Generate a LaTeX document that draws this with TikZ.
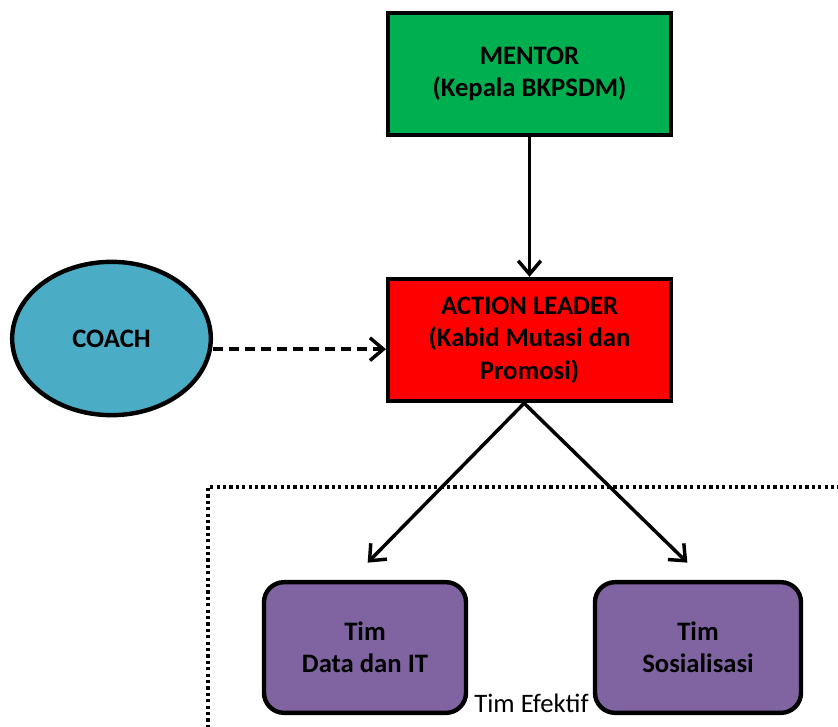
\documentclass[tikz,border=0pt]{standalone}
\usepackage{fontspec}
\setmainfont{Carlito}
\usepackage{tikz}
\usepackage{xcolor}
\usetikzlibrary{positioning,arrows.meta,shapes,calc}

\definecolor{mentorgreen}{HTML}{00B050}
\definecolor{leaderred}{HTML}{FF0000}
\definecolor{coachblue}{HTML}{4BACC6}
\definecolor{timpurple}{HTML}{8064A2}

\tikzset{
    rolebox/.style={draw, line width=3.3pt, minimum width=212pt, minimum height=91.5pt,
        align=center, font=\bfseries\fontsize{20}{24.5}\selectfont},
    timbox/.style={draw, line width=3.3pt, fill=timpurple, rounded corners=15pt,
        minimum height=98pt, align=center, font=\bfseries\fontsize{20}{24}\selectfont},
    linkarrow/.style={-{Straight Barb[length=10pt,width=17pt]}, line width=2.6pt},
}

\begin{document}
\begin{tikzpicture}[x=0.75pt,y=-0.75pt]
    \clip (0,0) rectangle (838,727);

    % Mentor and action leader
    \node[rolebox, fill=mentorgreen] (mentor) at (529.5,74) {MENTOR\\(Kepala BKPSDM)};
    \node[rolebox, fill=leaderred] (leader) at (529.5,340) {ACTION LEADER\\(Kabid Mutasi dan\\Promosi)};

    % Coach
    \node[ellipse, draw, line width=3.3pt, fill=coachblue, minimum width=149pt, minimum height=115pt,
        font=\bfseries\fontsize{20}{24}\selectfont] (coach) at (111.5,338.5) {COACH};

    % Tim efektif (dotted frame)
    \draw[line width=2.4pt, dash pattern=on 2.4pt off 2.4pt] (208,760) -- (208,487) -- (870,487);
    \node[timbox, minimum width=151.5pt] (timdata) at (365,647.5) {Tim\\Data dan IT};
    \node[timbox, minimum width=154.5pt] (timsos) at (698,647.5) {Tim\\Sosialisasi};
    \node[anchor=base, font=\fontsize{20}{24}\selectfont] (efektif) at (531.5,712) {Tim Efektif};

    % Connectors
    \draw[linkarrow] (mentor.south) -- (leader.north);
    \draw[linkarrow, dash pattern=on 7.5pt off 4.5pt] ([yshift=-8pt]coach.east) -- ([yshift=-8pt]coach.east -| leader.west);
    \coordinate (split) at ([xshift=-4pt]leader.south);
    \draw[linkarrow] (split) -- ([xshift=2pt,yshift=13pt]timdata.north);
    \draw[linkarrow] (split) -- ([xshift=-8pt,yshift=13pt]timsos.north);
\end{tikzpicture}
\end{document}
